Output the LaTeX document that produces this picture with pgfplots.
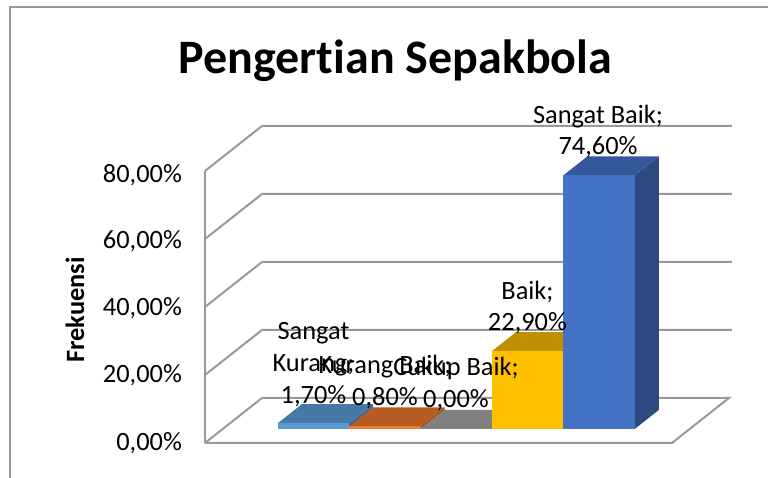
\documentclass[border=0pt]{standalone}
\usepackage{pgfplots}
\pgfplotsset{compat=1.18}
\usepackage{fontspec}
\setmainfont{Carlito}[Ligatures={NoCommon}]
% front / top / side colours
\definecolor{skF}{HTML}{5B9BD5}\definecolor{skT}{HTML}{4779A8}\definecolor{skS}{HTML}{3E6A96}
\definecolor{kbF}{HTML}{ED7D31}\definecolor{kbT}{HTML}{B75C22}\definecolor{kbS}{HTML}{A0501C}
\definecolor{cbF}{HTML}{A5A5A5}\definecolor{cbT}{HTML}{808080}\definecolor{cbS}{HTML}{707070}
\definecolor{bF}{HTML}{FFC000}\definecolor{bT}{HTML}{BF9000}\definecolor{bS}{HTML}{A67C00}
\definecolor{sbF}{HTML}{4472C4}\definecolor{sbT}{HTML}{34589A}\definecolor{sbS}{HTML}{2D4A80}
\definecolor{wallc}{HTML}{999999}
\tikzset{
  wall/.style={draw=wallc, line width=1pt},
  lbl/.style={font=\fontsize{13.2}{15.9}\selectfont, align=center, inner sep=0pt},
}
\begin{document}
\begin{tikzpicture}
\begin{axis}[
  x=35.7pt, y=1.7pt,
  xmin=-1.52, xmax=5.86, ymin=-4.26, ymax=89.41,
  clip=false,
  axis line style={draw=none},
  major tick length=0pt,
  xtick=\empty,
  ytick={-4.26,15.88,35.59,55.29,74.7},
  yticklabels={{0,00\%},{20,00\%},{40,00\%},{60,00\%},{80,00\%}},
  yticklabel style={font=\fontsize{13.2}{15.9}\selectfont, anchor=east, xshift=-8pt},
]
% ----- walls and floor -----
\draw[wall] (axis cs:-1.52,-4.118) -- (axis cs:5.021,-4.118) -- (axis cs:5.819,9.118) -- (axis cs:-0.721,9.118);
\draw[wall] (axis cs:-1.52,-4.118) -- (axis cs:-1.52,75.882);
\draw[wall] (axis cs:-1.52,-4.118) -- (axis cs:-0.721,9.118);
\draw[wall] (axis cs:-1.52,15.882) -- (axis cs:-0.721,29.118) -- (axis cs:5.86,29.118);
\draw[wall] (axis cs:-1.52,35.882) -- (axis cs:-0.721,49.118) -- (axis cs:5.86,49.118);
\draw[wall] (axis cs:-1.52,55.882) -- (axis cs:-0.721,69.118) -- (axis cs:5.86,69.118);
\draw[wall] (axis cs:-1.52,75.882) -- (axis cs:-0.721,89.118) -- (axis cs:5.86,89.118);
% ----- Sangat Kurang 1.7 -----
\addplot[fill=skS, draw=none] coordinates {(0.5,0) (0.836,5.588) (0.836,7.288) (0.5,1.7)} -- cycle;
\addplot[fill=skT, draw=none] coordinates {(-0.5,1.7) (0.5,1.7) (0.836,7.288) (-0.164,7.288)} -- cycle;
\addplot[ybar, bar width=1, bar shift=0pt, fill=skF, draw=none] coordinates {(0,1.7)};
% ----- Kurang Baik 0.8 -----
\addplot[fill=kbS, draw=none] coordinates {(1.5,0) (1.836,5.588) (1.836,6.388) (1.5,0.8)} -- cycle;
\addplot[fill=kbT, draw=none] coordinates {(0.5,0.8) (1.5,0.8) (1.836,6.388) (0.836,6.388)} -- cycle;
\addplot[ybar, bar width=1, bar shift=0pt, fill=kbF, draw=none] coordinates {(1,0.8)};
% ----- Cukup Baik 0 -----
\addplot[fill=cbT, draw=none] coordinates {(1.5,0) (2.5,0) (2.836,5.588) (1.836,5.588)} -- cycle;
\addplot[ybar, bar width=1, bar shift=0pt, fill=cbF, draw=none] coordinates {(2,0)};
% ----- Baik 22.9 -----
\addplot[fill=bS, draw=none] coordinates {(3.5,0) (3.836,5.588) (3.836,28.488) (3.5,22.9)} -- cycle;
\addplot[fill=bT, draw=none] coordinates {(2.5,22.9) (3.5,22.9) (3.836,28.488) (2.836,28.488)} -- cycle;
\addplot[ybar, bar width=1, bar shift=0pt, fill=bF, draw=none] coordinates {(3,22.9)};
% ----- Sangat Baik 74.6 -----
\addplot[fill=sbS, draw=none] coordinates {(4.5,0) (4.836,5.588) (4.836,80.188) (4.5,74.6)} -- cycle;
\addplot[fill=sbT, draw=none] coordinates {(3.5,74.6) (4.5,74.6) (4.836,80.188) (3.836,80.188)} -- cycle;
\addplot[ybar, bar width=1, bar shift=0pt, fill=sbF, draw=none] coordinates {(4,74.6)};
% ----- data labels -----
\node[lbl] at (axis cs:0,18.9) {Sangat\\Kurang;\\1,70\%};
\node[lbl] at (axis cs:1.001,13.7) {Kurang Baik;\\0,80\%};
\node[lbl] at (axis cs:1.996,13.2) {Cukup Baik;\\0,00\%};
\node[lbl] at (axis cs:2.997,35.7) {Baik;\\22,90\%};
\node[lbl] at (axis cs:3.985,87.5) {Sangat Baik;\\74,60\%};
% ----- title and axis title -----
\node[anchor=base, font=\fontsize{24}{28}\selectfont\bfseries] at (axis cs:1.148,104.7) {Pengertian Sepakbola};
\node[rotate=90, font=\fontsize{13.2}{15.9}\selectfont\bfseries] at (axis cs:-3.34,35.0) {Frekuensi};
% ----- chart border (cropped) -----
\draw[draw=wallc, line width=1pt] (axis cs:-4.244,-14.412) -- (axis cs:-4.244,124.12) -- (axis cs:6.366,124.12);
\coordinate (BL) at (axis cs:-4.391,-14.412);
\coordinate (TR) at (axis cs:6.366,126.176);
\end{axis}
\pgfresetboundingbox
\useasboundingbox (BL) rectangle (TR);
\end{tikzpicture}
\end{document}
